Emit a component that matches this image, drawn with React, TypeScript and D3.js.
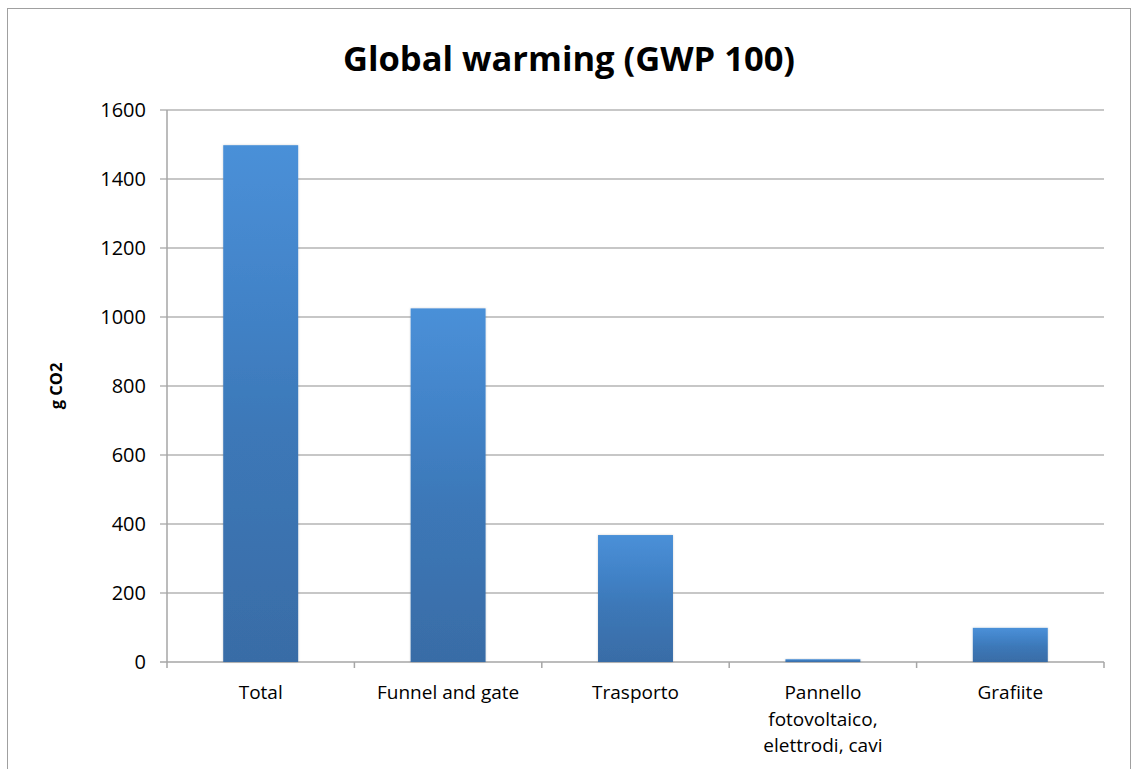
import React from "react";
import * as d3 from "d3";

// Global warming potential (GWP 100) per component, in grams of CO2
const categories: string[] = [
  "Total",
  "Funnel and gate",
  "Trasporto",
  "Pannello fotovoltaico, elettrodi, cavi",
  "Grafiite",
];
const values: number[] = [1498, 1025, 368, 8, 99];
const yTicks: number[] = [0, 200, 400, 600, 800, 1000, 1200, 1400, 1600];

const chartTitle = "Global warming (GWP 100)";
const yAxisTitle = "g CO2";

const W = 1133;
const H = 769;
const plot = { left: 167, right: 1104, top: 110, bottom: 662 };
const FONT = "'Open Sans', Lato, 'DejaVu Sans', sans-serif";
const LABEL_SIZE = 19;
const TICK_SIZE = 20;
const AXIS_GRAY = "#a6a6a6";
const GRID_GRAY = "#b4b4b4";

// Word-wrap a category label into lines no wider than maxWidth
function wrapLabel(text: string, maxWidth: number): string[] {
  const canvas = document.createElement("canvas");
  const ctx = canvas.getContext("2d");
  const measure = (s: string) => {
    if (!ctx) return s.length * LABEL_SIZE * 0.55;
    ctx.font = `${LABEL_SIZE}px ${FONT}`;
    return ctx.measureText(s).width;
  };
  const words = text.split(" ");
  const lines: string[] = [];
  let cur = "";
  for (const w of words) {
    const next = cur ? cur + " " + w : w;
    if (cur && measure(next) > maxWidth) {
      lines.push(cur);
      cur = w;
    } else {
      cur = next;
    }
  }
  if (cur) lines.push(cur);
  return lines;
}

export default function App() {
  const x = d3
    .scaleBand<string>()
    .domain(categories)
    .range([plot.left, plot.right])
    .paddingInner(0.6)
    .paddingOuter(0.3);
  const band = d3.scaleBand<string>().domain(categories).range([plot.left, plot.right]);
  const y = d3.scaleLinear().domain([0, 1600]).range([plot.bottom, plot.top]);

  const boundaries = d3.range(categories.length + 1).map(
    (i) => plot.left + i * band.step()
  );

  return (
    <svg
      width={W}
      height={H}
      style={{ position: "absolute", left: 0, top: 0, background: "#fff" }}
      fontFamily={FONT}
    >
      <defs>
        <linearGradient id="barFill" x1="0" y1="0" x2="0" y2="1">
          <stop offset="0%" stopColor="#4a90d8" />
          <stop offset="30%" stopColor="#4283c8" />
          <stop offset="55%" stopColor="#3c78b8" />
          <stop offset="100%" stopColor="#396ca6" />
        </linearGradient>
        <filter id="barShadow" x="-10%" y="-10%" width="120%" height="120%">
          <feDropShadow dx="0" dy="0" stdDeviation="1.2" floodColor="#000" floodOpacity="0.18" />
        </filter>
      </defs>

      {/* chart frame */}
      <rect x={7.5} y={8.5} width={1123} height={770} fill="#fff" stroke="#a0a0a0" strokeWidth={1} />

      <text
        x={569}
        y={71}
        textAnchor="middle"
        fontSize={34.5}
        fontWeight={700}
        fill="#000"
      >
        {chartTitle}
      </text>

      {/* horizontal gridlines and y ticks */}
      {yTicks.map((t) => (
        <g key={t}>
          <line
            x1={plot.left - 7}
            x2={plot.right}
            y1={y(t)}
            y2={y(t)}
            stroke={t === 0 ? AXIS_GRAY : GRID_GRAY}
            strokeWidth={1.5}
          />
          <text
            x={146}
            y={y(t)}
            dy="0.36em"
            textAnchor="end"
            fontSize={TICK_SIZE}
            fill="#000"
          >
            {t}
          </text>
        </g>
      ))}

      {/* y axis line */}
      <line
        x1={plot.left}
        x2={plot.left}
        y1={plot.top}
        y2={plot.bottom + 6}
        stroke={AXIS_GRAY}
        strokeWidth={1.5}
      />

      {/* category boundary ticks */}
      {boundaries.slice(1).map((bx, i) => (
        <line
          key={i}
          x1={bx}
          x2={bx}
          y1={plot.bottom}
          y2={plot.bottom + 6}
          stroke={AXIS_GRAY}
          strokeWidth={1.5}
        />
      ))}

      {/* bars */}
      {categories.map((c, i) => (
        <rect
          key={c}
          x={x(c)}
          y={y(values[i])}
          width={x.bandwidth()}
          height={y(0) - y(values[i])}
          fill="url(#barFill)"
          filter="url(#barShadow)"
        />
      ))}

      {/* category labels */}
      {categories.map((c) => {
        const cx = (band(c) as number) + band.step() / 2;
        const lines = wrapLabel(c, 160);
        return (
          <text key={c} x={cx} y={699} textAnchor="middle" fontSize={LABEL_SIZE} fill="#000">
            {lines.map((ln, j) => (
              <tspan key={j} x={cx} dy={j === 0 ? 0 : 26.5}>
                {ln}
              </tspan>
            ))}
          </text>
        );
      })}

      {/* y axis title */}
      <text
        transform={`translate(62, ${(plot.top + plot.bottom) / 2}) rotate(-90)`}
        textAnchor="middle"
        fontSize={16.5}
        fontWeight={700}
        fill="#000"
      >
        {yAxisTitle}
      </text>
    </svg>
  );
}
